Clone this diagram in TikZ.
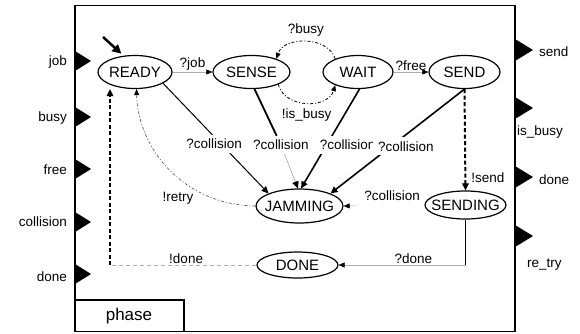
\documentclass[tikz,border=0pt]{standalone}
\usepackage{fontspec}
\setmainfont{Liberation Sans}
\usetikzlibrary{arrows.meta,shapes.geometric}
\begin{document}
\begin{tikzpicture}[x=1pt,y=-1pt,
  state/.style={ellipse,draw,line width=1.2pt,inner sep=0pt,font=\fontsize{15}{15}\selectfont},
  lab/.style={font=\fontsize{13.5}{14}\selectfont,inner sep=1pt},
  labw/.style={lab,fill=white,inner xsep=1.5pt,inner ysep=4pt},
  tipA/.style={-{Triangle[length=6pt,width=5pt,color=black]}},
  tipB/.style={-{Triangle[length=7pt,width=6.5pt]}},
  thinline/.style={draw=gray!65,line width=0.5pt},
  dashdot/.style={line width=0.8pt,dash pattern=on 3pt off 2pt on 1pt off 2pt},
  heavydash/.style={line width=2pt,dash pattern=on 4pt off 2.5pt},
]
\useasboundingbox (0,0) rectangle (580,333);

% block frame and its name tab
\draw[line width=1.5pt] (75,5.5) rectangle (515,331.5);
\draw[line width=1.2pt] (75,300) rectangle (184,331.5);
\node[font=\fontsize{17}{17}\selectfont] (phase) at (129,316) {phase};

% input ports
\foreach \y/\t/\ly in {61/job/62,117/busy/118,169/free/170,222/collision/222,274/done/277}{
  \fill (75,\y-10) -- (91,\y) -- (75,\y+10) -- cycle;
  \node[lab,anchor=east] (in-\t) at (68,\ly) {\t};
}
% output ports
\foreach \y in {50,108,177,236}{
  \fill (515,\y-11) -- (533,\y) -- (515,\y+11) -- cycle;
}
\node[lab,anchor=west] (out-send) at (538,52) {send};
\node[lab,anchor=west] (out-isbusy) at (516,132) {is\_busy};
\node[lab,anchor=west] (out-done) at (538,180) {done};
\node[lab,anchor=west] (out-retry) at (526,265) {re\_try};

% states
\node[state,minimum width=74pt,minimum height=33pt] (READY) at (135,72) {\makebox[0pt]{READY}};
\node[state,minimum width=77pt,minimum height=33pt] (SENSE) at (251.5,72) {\makebox[0pt]{SENSE}};
\node[state,minimum width=70pt,minimum height=33pt] (WAIT) at (358,72) {\makebox[0pt]{WAIT}};
\node[state,minimum width=71pt,minimum height=33pt] (SEND) at (464.5,72) {\makebox[0pt]{SEND}};
\node[state,minimum width=87pt,minimum height=34pt] (JAMMING) at (299.5,206) {\makebox[0pt]{JAMMING}};
\node[state,minimum width=81pt,minimum height=28pt] (SENDING) at (465.5,205) {\makebox[0pt]{SENDING}};
\node[state,minimum width=81pt,minimum height=26pt] (DONE) at (297.5,265) {\makebox[0pt]{DONE}};

% initial transition
\coordinate (init) at (103,37);
\draw[line width=2.5pt,-{Triangle[length=9pt,width=9pt]},shorten >=3pt] (init) -- (READY.125);

% transitions along the top row
\draw[thinline,tipA] (READY) -- node[lab,above] (l-job) {?job} (SENSE);
\draw[thinline,tipA] (WAIT) -- node[lab,above] (l-free) {?free} (SEND);
\draw[dashdot,tipA] (WAIT.150) .. controls (328,36) and (284,36) .. node[lab,yshift=12pt] (l-busy) {?busy} (SENSE.28);
\draw[dashdot,tipA] (SENSE.-25) .. controls (285,109) and (328,109) .. node[lab,yshift=-12pt] (l-isbusy) {!is\_busy} (WAIT.-150);

% collisions into JAMMING
\draw[line width=1pt,tipB] (READY.-22) -- node[labw,pos=0.55,xshift=-7pt] (l-c1) {?collision} (JAMMING.158);
\node[labw] (l-c2) at (281,145) {?collision};
\draw[line width=1.8pt] (SENSE.-80) -- (l-c2);
\draw[draw=gray,line width=0.4pt,-{Triangle[length=7pt,width=6.5pt,color=black]}] (l-c2) -- (JAMMING.95);
\draw[line width=1.6pt,tipB] (WAIT.-85) -- node[labw,pos=0.564,xshift=21pt] (l-c3) {?collision} (JAMMING.85);
\draw[line width=1.6pt,tipB] (SEND.-90) -- node[labw,pos=0.549,xshift=15pt,inner xsep=5pt] (l-c4) {?collision} (JAMMING.22);

% sending branch
\draw[heavydash,tipB] (SEND.south) -- node[lab,pos=0.87,anchor=west,xshift=4pt] (l-send) {!send} (SENDING.north);
\draw[thinline,tipA,shorten <=68pt] (SENDING.west) -- node[lab,pos=0.4,above,yshift=4pt] (l-c5) {?collision} (JAMMING.east);
\coordinate (cSD) at (SENDING.south |- DONE.east);
\draw[line width=1.2pt] (SENDING.south) -- (cSD);
\draw[thinline,tipA] (cSD) -- node[lab,pos=0.41,above] (l-done2) {?done} (DONE.east);

% back to READY
\coordinate (cDR) at (110,265);
\draw[thinline,dash pattern=on 4pt off 3pt] (DONE.west) -- node[lab,pos=0.48,above] (l-done1) {!done} (cDR);
\draw[heavydash,tipB] (cDR) -- (cDR |- READY.south);
\draw[dashdot,draw=black!70,line width=0.6pt,tipA] (JAMMING.west) .. controls (185,205) and (138,150) .. node[lab,pos=0.35,xshift=-13pt,yshift=-11pt] (l-retry) {!retry} (READY.-85);
\end{tikzpicture}
\end{document}
